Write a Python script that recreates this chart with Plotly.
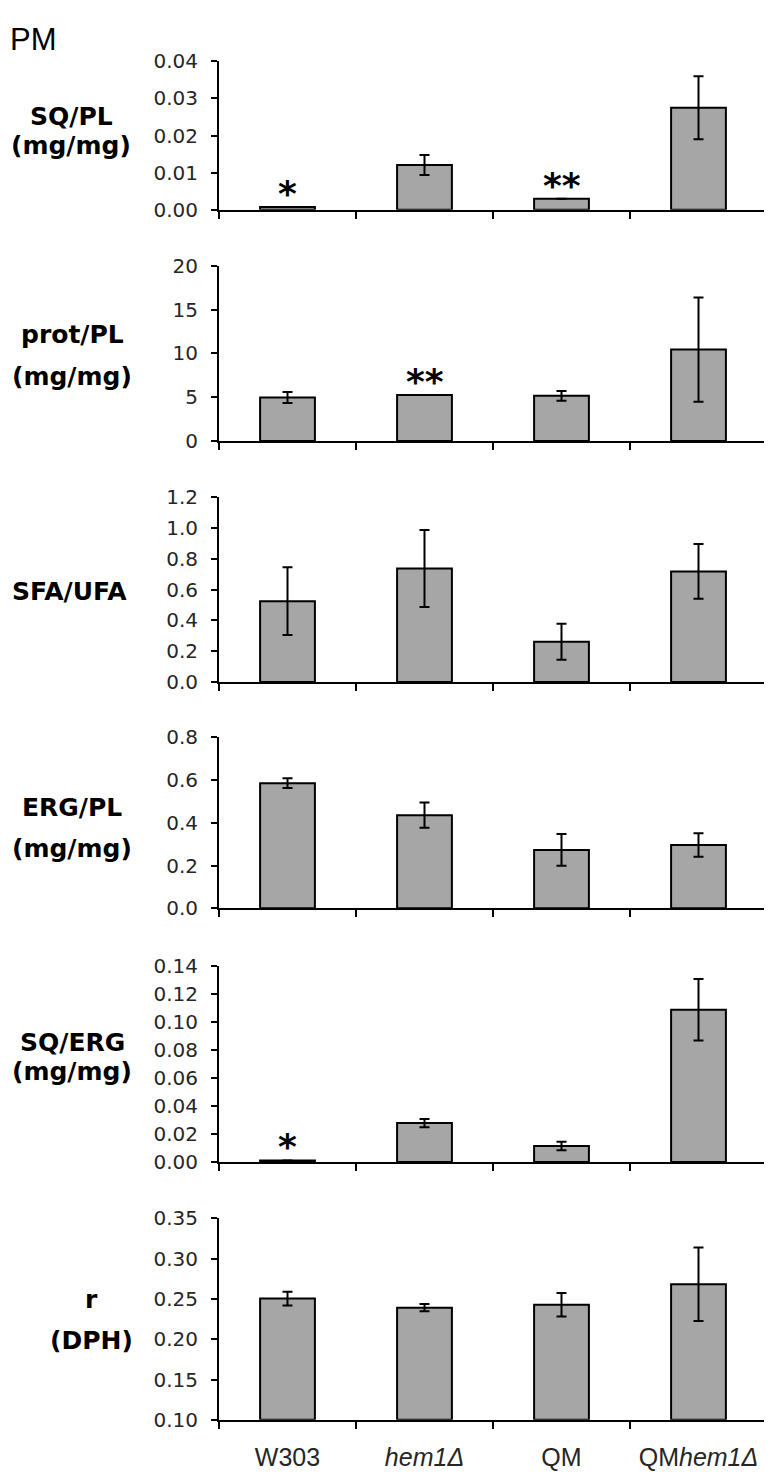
import plotly.graph_objects as go

# ---------------- data ----------------
categories = ["W303", "hem1Δ", "QM", "QMhem1Δ"]
tick_text = ["W303", "<i>hem1Δ</i>", "QM", "QM<i>hem1Δ</i>"]

sq_pl = [0.0008, 0.0121, 0.0030, 0.0275]
sq_pl_err = [0.0, 0.0027, 0.0, 0.0085]
sq_pl_sig = ["*", "", "**", ""]

prot_pl = [4.97, 5.25, 5.16, 10.45]
prot_pl_err = [0.62, 0.0, 0.56, 5.95]
prot_pl_sig = ["", "**", "", ""]

sfa_ufa = [0.525, 0.737, 0.261, 0.718]
sfa_ufa_err = [0.22, 0.25, 0.117, 0.177]
sfa_ufa_sig = ["", "", "", ""]

erg_pl = [0.585, 0.435, 0.273, 0.296]
erg_pl_err = [0.023, 0.059, 0.074, 0.055]
erg_pl_sig = ["", "", "", ""]

sq_erg = [0.0012, 0.0279, 0.0115, 0.109]
sq_erg_err = [0.0, 0.0029, 0.0030, 0.022]
sq_erg_sig = ["*", "", "", ""]

r_dph = [0.2504, 0.2390, 0.2427, 0.2680]
r_dph_err = [0.0085, 0.0045, 0.0145, 0.0455]
r_dph_sig = ["", "", "", ""]

y_ranges = [[0, 0.04], [0, 20], [0, 1.2], [0, 0.8], [0, 0.14], [0.10, 0.35]]
y_dtick = [0.01, 5, 0.2, 0.2, 0.02, 0.05]
y_fmt = [".2f", "d", ".1f", ".1f", ".2f", ".2f"]
y_labels = [["SQ/PL", "(mg/mg)"], ["prot/PL", "(mg/mg)"], ["SFA/UFA"],
            ["ERG/PL", "(mg/mg)"], ["SQ/ERG", "(mg/mg)"], ["r", "(DPH)"]]

series = [(sq_pl, sq_pl_err, sq_pl_sig), (prot_pl, prot_pl_err, prot_pl_sig),
          (sfa_ufa, sfa_ufa_err, sfa_ufa_sig), (erg_pl, erg_pl_err, erg_pl_sig),
          (sq_erg, sq_erg_err, sq_erg_sig), (r_dph, r_dph_err, r_dph_sig)]

# ---------------- layout geometry (pixels) ----------------
W, H = 772, 1475
x_left, x_right = 211, 759
panel_px = [(42, 193), (250, 428), (485, 673), (729, 903), (962, 1161), (1218, 1423)]
label_lines_px = [[98, 128], [320, 362], [581], [801, 842], [1039, 1069], [1301, 1342]]
label_x_px = [63, 64, 62, 64, 64, 83]

def py(p):
    return 1 - p / H

fig = go.Figure()
annotations = []
tick_font = dict(family="DejaVu Sans", size=20, color="#262626")

for i, ((vals, errs, sigs), (top, bot)) in enumerate(zip(series, panel_px)):
    n = i + 1
    xa = "x" if n == 1 else f"x{n}"
    ya = "y" if n == 1 else f"y{n}"
    y0 = y_ranges[i][0]
    fig.add_trace(go.Bar(
        x=categories, y=[v - y0 for v in vals], base=y0 if y0 else None,
        xaxis=xa, yaxis=ya, width=0.40,
        marker=dict(color="#a6a6a6", line=dict(color="black", width=2)),
        error_y=dict(type="data", array=errs, visible=True, color="black",
                     thickness=2, width=5),
        showlegend=False,
    ))
    xkey = "xaxis" if n == 1 else f"xaxis{n}"
    ykey = "yaxis" if n == 1 else f"yaxis{n}"
    fig.update_layout(**{
        xkey: dict(domain=[x_left / W, x_right / W], anchor=ya, type="category",
                   tickson="boundaries", ticks="outside", ticklen=7, tickwidth=2,
                   tickcolor="black", showline=True, linecolor="black", linewidth=2,
                   showgrid=False, zeroline=False, showticklabels=(n == 6),
                   tickvals=categories, ticktext=tick_text, ticklabelstandoff=14,
                   tickfont=dict(family="Liberation Sans", size=25, color="#262626"),
                   range=[-0.5, 3.5], fixedrange=True),
        ykey: dict(domain=[py(bot), py(top)], anchor=xa, range=y_ranges[i],
                   dtick=y_dtick[i], tick0=y_ranges[i][0], tickformat=y_fmt[i],
                   ticks="outside", ticklen=6, tickwidth=2, tickcolor="black",
                   showline=True, linecolor="black", linewidth=2, showgrid=False,
                   zeroline=False, tickfont=tick_font, ticklabelstandoff=9),
    })
    # significance marks
    for c, v, e, s in zip(categories, vals, errs, sigs):
        if s:
            annotations.append(dict(
                x=c, y=v + e, xref=xa, yref=ya, text=f"<b>{s}</b>", showarrow=False,
                yanchor="bottom", yshift=-9,
                font=dict(family="DejaVu Sans", size=36, color="black")))
    # y labels
    for line, ypx in zip(y_labels[i], label_lines_px[i]):
        annotations.append(dict(
            x=label_x_px[i] / W, y=py(ypx), xref="paper", yref="paper",
            text=f"<b>{line}</b>", showarrow=False, xanchor="center", yanchor="middle",
            font=dict(family="DejaVu Sans", size=25, color="black")))

annotations.append(dict(x=0, y=py(20), xref="paper", yref="paper", text="PM",
                        showarrow=False, xanchor="left", yanchor="middle",
                        font=dict(family="Liberation Sans", size=31, color="black")))

fig.update_layout(width=W, height=H, margin=dict(l=0, r=0, t=0, b=0),
                  plot_bgcolor="white", paper_bgcolor="white",
                  annotations=annotations)

fig.write_html("out.html")
